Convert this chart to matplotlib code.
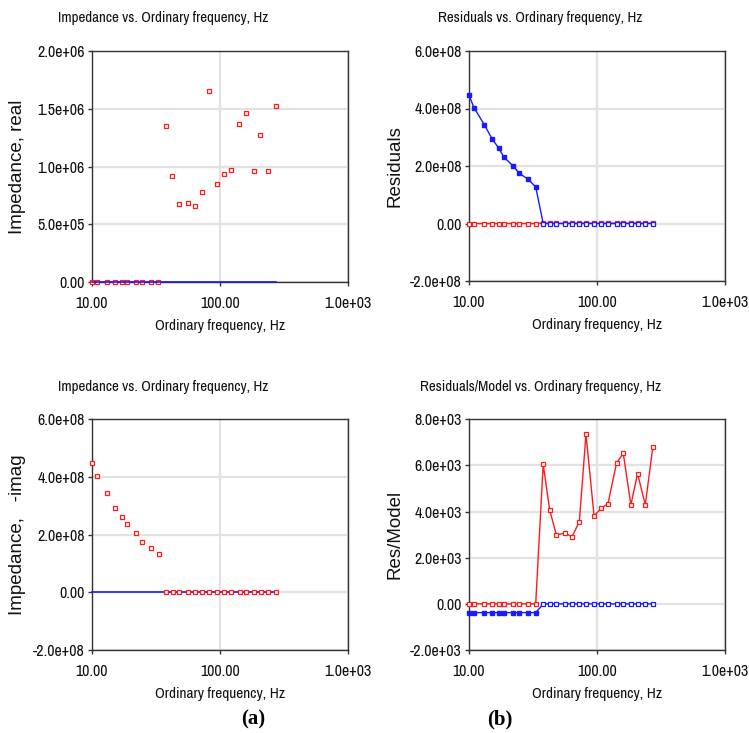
import matplotlib
matplotlib.use("Agg")
import matplotlib.pyplot as plt
from matplotlib.ticker import FixedLocator, FuncFormatter
from matplotlib import font_manager

# ---------------- data ----------------
freq = [10.0, 10.94, 13.2, 15.2, 17.1, 18.7, 22.0, 24.8, 29.0, 33.2,
        38.0, 42.7, 48.2, 56.0, 63.8, 72.8, 82.0, 94.8, 108.2, 121.9,
        142.3, 160.4, 184.0, 207.5, 238.3, 273.2]

z_real = [0, 0, 0, 0, 0, 0, 0, 0, 0, 0,
          1.353e6, 0.919e6, 0.676e6, 0.688e6, 0.662e6, 0.777e6, 1.656e6, 0.850e6,
          0.934e6, 0.971e6, 1.364e6, 1.462e6, 0.960e6, 1.269e6, 0.960e6, 1.526e6]
model_real = [0] * 26

z_imag = [4.47e8, 4.03e8, 3.44e8, 2.94e8, 2.62e8, 2.36e8, 2.05e8, 1.76e8, 1.54e8, 1.33e8,
          0, 0, 0, 0, 0, 0, 0, 0, 0, 0, 0, 0, 0, 0, 0, 0]
model_imag = [0] * 26

res_real = [0, 0, 0, 0, 0, 0, 0, 0, 0, 0,
            1.353e6, 0.919e6, 0.676e6, 0.688e6, 0.662e6, 0.777e6, 1.656e6, 0.850e6,
            0.934e6, 0.971e6, 1.364e6, 1.462e6, 0.960e6, 1.269e6, 0.960e6, 1.526e6]
res_imag = [4.46e8, 4.03e8, 3.43e8, 2.93e8, 2.62e8, 2.31e8, 2.01e8, 1.74e8, 1.54e8, 1.27e8,
            0, 0, 0, 0, 0, 0, 0, 0, 0, 0, 0, 0, 0, 0, 0, 0]

rm_real = [0, 0, 0, 0, 0, 0, 0, 0, 0, 0,
           6.05e3, 4.07e3, 2.98e3, 3.07e3, 2.91e3, 3.56e3, 7.36e3, 3.82e3,
           4.14e3, 4.35e3, 6.12e3, 6.52e3, 4.29e3, 5.65e3, 4.29e3, 6.81e3]
rm_imag = [-0.38e3] * 10 + [0] * 16

titles = ["Impedance vs. Ordinary frequency, Hz",
          "Residuals vs. Ordinary frequency, Hz",
          "Impedance vs. Ordinary frequency, Hz",
          "Residuals/Model vs. Ordinary frequency, Hz"]
ylabels = ["Impedance, real", "Residuals", "Impedance,   -imag", "Res/Model"]
xlabel = "Ordinary frequency, Hz"
x_ticks = [10, 100, 1000]
x_ticklabels = ["10.00", "100.00", "1.0e+03"]
y_ticks_1 = [0, 5e5, 1e6, 1.5e6, 2e6]
y_ticks_2 = [-2e8, 0, 2e8, 4e8, 6e8]
y_ticks_4 = [-2e3, 0, 2e3, 4e3, 6e3, 8e3]

# ---------------- style ----------------
names = {f.name for f in font_manager.fontManager.ttflist}
narrow = "DejaVu Sans"
for cand in ["Archivo Narrow", "PT Sans Narrow", "Liberation Sans Narrow", "Roboto Condensed"]:
    if cand in names:
        narrow = cand
        break
RED = "#ff1a1a"
BLUE = "#1a1aff"
TXT = "#111111"

W, H = 749, 733
fig = plt.figure(figsize=(W / 100, H / 100), dpi=100)


def add_axes(l, t, r, b):
    return fig.add_axes([l / W, 1 - b / H, (r - l) / W, (b - t) / H])


def yfmt(v, pos):
    if abs(v) < 1e-12:
        return "0.00"
    return "%.1e" % v


def style(ax, yticks, ylab, title, tx, ty):
    ax.set_xscale("log")
    ax.set_xlim(10, 1000)
    ax.set_ylim(yticks[0], yticks[-1])
    ax.xaxis.set_major_locator(FixedLocator(x_ticks))
    ax.xaxis.set_minor_locator(FixedLocator([]))
    ax.set_xticklabels(x_ticklabels)
    ax.yaxis.set_major_locator(FixedLocator(yticks))
    ax.yaxis.set_major_formatter(FuncFormatter(yfmt))
    ax.grid(True, color="#e2e2e2", lw=1.6)
    ax.set_axisbelow(True)
    for s in ax.spines.values():
        s.set_color("#333333")
        s.set_linewidth(1.0)
    ax.tick_params(axis="both", direction="out", length=3, width=1, color="#333333",
                   labelsize=11.5, labelcolor=TXT, pad=2)
    for lab in ax.get_xticklabels() + ax.get_yticklabels():
        lab.set_family(narrow)
    ax.tick_params(axis="x", pad=7)
    ax.set_xlabel(xlabel, family=narrow, fontsize=11, color=TXT, labelpad=6)
    ax.set_ylabel(ylab, family="Liberation Sans", fontsize=13.5, color=TXT)
    ax.yaxis.set_label_coords(-0.255, 0.5)
    fig.text(tx / W, 1 - ty / H, title, family=narrow, fontsize=10.8,
             ha="center", va="center", color=TXT)


mk = dict(marker="s", markersize=3.2, markeredgewidth=0.9, markerfacecolor="white")

# Panel 1
ax1 = add_axes(91.7, 51, 348, 282)
ax1.plot(freq, z_real, ls="none", color=RED, markeredgecolor=RED, **mk, zorder=3,
         clip_on=False)
ax1.plot(freq, model_real, color=BLUE, lw=1.2, zorder=4, clip_on=False)
style(ax1, y_ticks_1, ylabels[0], titles[0], 163, 18)

# Panel 2
ax2 = add_axes(469, 51, 725, 281)
ax2.plot(freq, res_real, color=RED, lw=1.0, markeredgecolor=RED, **mk, zorder=3,
         clip_on=False)
ax2.plot(freq, res_imag, color=BLUE, lw=1.0, zorder=4, clip_on=False)
ax2.plot(freq[:10], res_imag[:10], ls="none", marker="s", markersize=3.2,
         color=BLUE, zorder=5, clip_on=False)
ax2.plot(freq[10:], res_imag[10:], ls="none", color=BLUE, markeredgecolor=BLUE,
         **mk, zorder=5, clip_on=False)
style(ax2, y_ticks_2, ylabels[1], titles[1], 540, 18)

# Panel 3
ax3 = add_axes(91.7, 419.3, 348.3, 650)
ax3.plot(freq, z_imag, ls="none", color=RED, markeredgecolor=RED, **mk, zorder=4,
         clip_on=False)
ax3.plot(freq, model_imag, color=BLUE, lw=1.2, zorder=3, clip_on=False)
style(ax3, y_ticks_2, ylabels[2], titles[2], 163, 387)

# Panel 4
ax4 = add_axes(469, 419.3, 725, 650)
ax4.plot(freq, rm_real, color=RED, lw=1.0, markeredgecolor=RED, **mk, zorder=3,
         clip_on=False)
ax4.plot(freq, rm_imag, color=BLUE, lw=1.0, zorder=4, clip_on=False)
ax4.plot(freq[:10], rm_imag[:10], ls="none", marker="s", markersize=3.2,
         color=BLUE, zorder=5, clip_on=False)
ax4.plot(freq[10:], rm_imag[10:], ls="none", color=BLUE, markeredgecolor=BLUE,
         **mk, zorder=5, clip_on=False)
style(ax4, y_ticks_4, ylabels[3], titles[3], 541, 387)

fig.text(253 / W, 1 - 719 / H, "(a)", family="Liberation Serif", fontweight="bold",
         fontsize=15, ha="center", va="center")
fig.text(500 / W, 1 - 719 / H, "(b)", family="Liberation Serif", fontweight="bold",
         fontsize=15, ha="center", va="center")

fig.savefig("out.png", dpi=100, facecolor="white")
